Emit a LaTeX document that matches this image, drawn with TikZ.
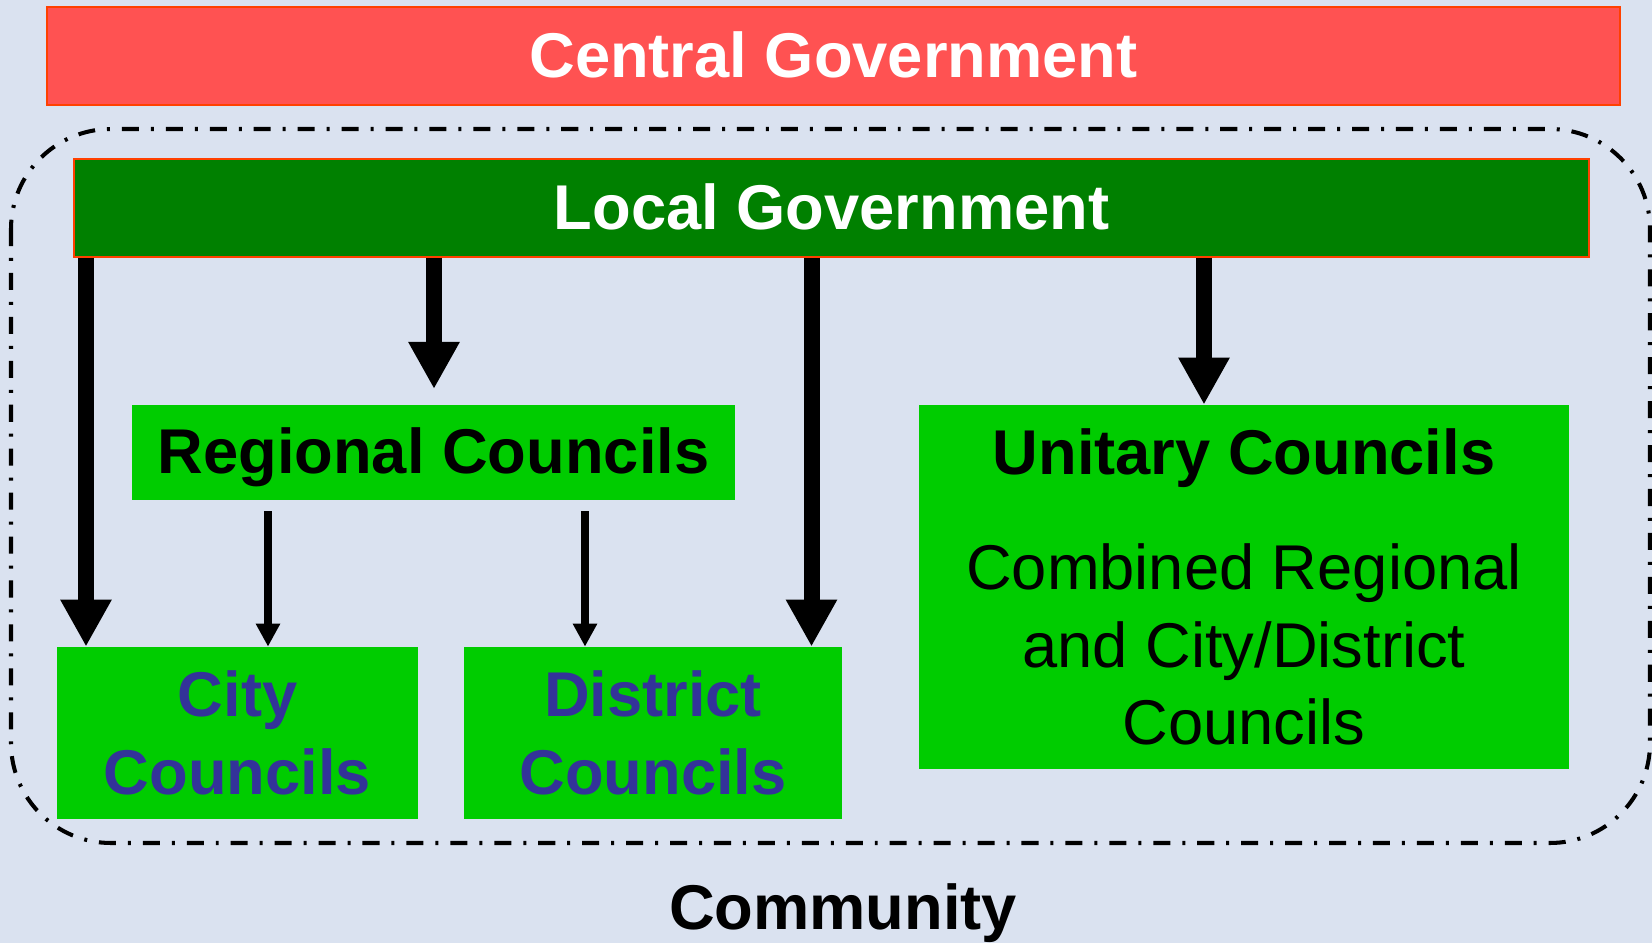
\documentclass[tikz,border=0pt]{standalone}
\usepackage{fontspec}
\setmainfont{Liberation Sans}
\usetikzlibrary{arrows.meta}

\definecolor{bgblue}{RGB}{218,226,240}
\definecolor{govred}{RGB}{255,82,82}
\definecolor{edgered}{RGB}{255,64,0}
\definecolor{darkgreen}{RGB}{0,128,0}
\definecolor{brightgreen}{RGB}{0,204,0}
\definecolor{textblue}{RGB}{51,51,153}

\begin{document}
\begin{tikzpicture}[
    bigfont/.style={font=\fontsize{36}{44}\selectfont\bfseries},
    oneline/.style={text height=24pt, text depth=0pt},
    topbar/.style={draw=edgered, line width=1pt, minimum height=1.96cm, inner sep=0pt, text=white, bigfont, oneline},
    councilbox/.style={fill=brightgreen, inner sep=0pt, align=center, bigfont},
    bigarrow/.style={line width=0.32cm, -{Triangle[width=0.96cm, length=0.94cm]}},
    thinarrow/.style={line width=0.15cm, -{Triangle[width=0.46cm, length=0.46cm]}},
    dashline/.style={line width=2.3pt, dash pattern=on 9.7pt off 6.8pt on 1.7pt off 6.8pt}
]
        \fill[bgblue] (0, 0) rectangle (33.04, -18.86);
        \useasboundingbox (0, 0) rectangle (33.04, -18.86);

        \draw[dashline, rounded corners=2cm] (0.22, -2.58) rectangle (33.0, -16.86);

        \node[topbar, fill=govred, minimum width=31.46cm] (central) at (16.67, -1.12) {Central Government};
        \node[topbar, fill=darkgreen, minimum width=30.30cm] (local) at (16.63, -4.16) {Local Government};

        \node[councilbox, oneline, minimum width=12.06cm, minimum height=1.90cm] (regional) at (8.67, -9.05) {Regional Councils};
        \node[councilbox, minimum width=13.0cm, minimum height=7.28cm] (unitary) at (24.88, -11.74)
            {Unitary Councils\\[0.76cm]\mdseries Combined Regional\\\mdseries and City/District\\\mdseries Councils};
        \node[councilbox, text=textblue, minimum width=7.22cm, minimum height=3.44cm] (city) at (4.75, -14.66) {City\\Councils};
        \node[councilbox, text=textblue, minimum width=7.56cm, minimum height=3.44cm] (district) at (13.06, -14.66) {District\\Councils};

        \node[bigfont, oneline] (community) at (16.86, -18.16) {Community};

        \coordinate (a1) at (1.72, 0);
        \coordinate (a2) at (8.68, -7.78);
        \coordinate (a3) at (16.23, 0);
        \coordinate (a4) at (24.08, 0);
        \coordinate (t1) at (5.36, 0);
        \coordinate (t2) at (11.70, 0);

        \draw[bigarrow] (local.south -| a1) -- (city.north -| a1);
        \draw[bigarrow] (local.south -| a2) -- (a2);
        \draw[bigarrow] (local.south -| a3) -- (district.north -| a3);
        \draw[bigarrow] (local.south -| a4) -- (unitary.north -| a4);

        \draw[thinarrow, shorten <=0.22cm] (regional.south -| t1) -- (city.north -| t1);
        \draw[thinarrow, shorten <=0.22cm] (regional.south -| t2) -- (district.north -| t2);
    \end{tikzpicture}
\end{document}
